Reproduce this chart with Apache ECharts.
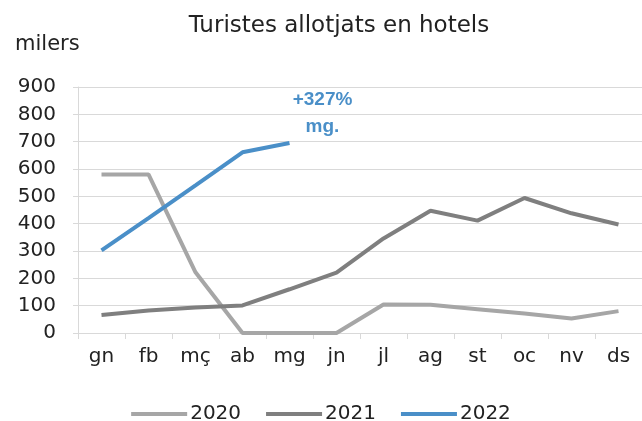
<!DOCTYPE html>
<html><head><meta charset="utf-8">
<script src="https://cdn.jsdelivr.net/npm/echarts@6/dist/echarts.min.js"></script>
<style>html,body{margin:0;padding:0;background:#fff}#c{width:642px;height:421px}</style>
</head><body><div id="c"></div>
<script>
const months = ['gn','fb','mç','ab','mg','jn','jl','ag','st','oc','nv','ds'];
const s2020 = [580, 580, 222, 0, 0, 0, 104, 103, 87, 71, 53, 80];
const s2021 = [66, 82, 93, 101, 160, 221, 346, 447, 411, 494, 438, 397];
const s2022 = [302, 420, 540, 661, 695];
const yTicks = [0, 100, 200, 300, 400, 500, 600, 700, 800, 900];
const annotation = '+327%\nmg.';

const font = 'DejaVu Sans, sans-serif';
const chart = echarts.init(document.getElementById('c'), null, {renderer: 'canvas'});
chart.setOption({
  animation: false,
  backgroundColor: '#fff',
  textStyle: {fontFamily: font},
  title: {
    text: 'Turistes allotjats en hotels',
    left: 334, top: 10, textAlign: 'center',
    textStyle: {fontSize: 23, fontWeight: 'normal', color: '#222', fontFamily: font}
  },
  graphic: [{type: 'text', left: 15, top: 34, style: {text: 'milers', fontSize: 21, fill: '#222', fontFamily: font}}],
  legend: {
    top: 399, left: 'center',
    itemWidth: 56, itemHeight: 4, itemGap: 25,
    icon: 'rect',
    textStyle: {fontSize: 20, color: '#222', fontFamily: font, padding: [0,0,0,-2]},
    data: ['2020', '2021', '2022']
  },
  grid: {left: 78, right: 0, top: 87, bottom: 88, containLabel: false},
  xAxis: {
    type: 'category', data: months, boundaryGap: true,
    axisLine: {lineStyle: {color: '#d9d9d9', width: 1}},
    axisTick: {show: true, length: 6, lineStyle: {color: '#d9d9d9'}},
    axisLabel: {fontSize: 20, color: '#222', margin: 14, fontFamily: font}
  },
  yAxis: {
    type: 'value', min: yTicks[0], max: yTicks[yTicks.length-1], interval: 100,
    axisLine: {show: true, lineStyle: {color: '#d9d9d9'}},
    axisTick: {show: true, length: 5, lineStyle: {color: '#d9d9d9'}},
    splitLine: {lineStyle: {color: '#d9d9d9', width: 1}},
    axisLabel: {fontSize: 20, color: '#222', margin: 22, fontFamily: font}
  },
  series: [
    {name: '2020', type: 'line', data: s2020, symbol: 'none', lineStyle: {width: 4, color: '#a6a6a6'}, itemStyle: {color: '#a6a6a6'}},
    {name: '2021', type: 'line', data: s2021, symbol: 'none', lineStyle: {width: 4, color: '#7f7f7f'}, itemStyle: {color: '#7f7f7f'}},
    {name: '2022', type: 'line', data: s2022, symbol: 'none', lineStyle: {width: 4, color: '#4a8fc8'}, itemStyle: {color: '#4a8fc8'},
      markPoint: {
        symbol: 'circle', symbolSize: 0,
        data: [{coord: [4, s2022[4]], value: annotation}],
        label: {show: true, formatter: annotation, position: 'inside', offset: [33, -30],
          fontSize: 19, fontWeight: 'bold', color: '#4a8fc8', lineHeight: 27, align: 'center', fontFamily: 'Liberation Sans, Arial, sans-serif'}
      }
    }
  ]
});
</script></body></html>
